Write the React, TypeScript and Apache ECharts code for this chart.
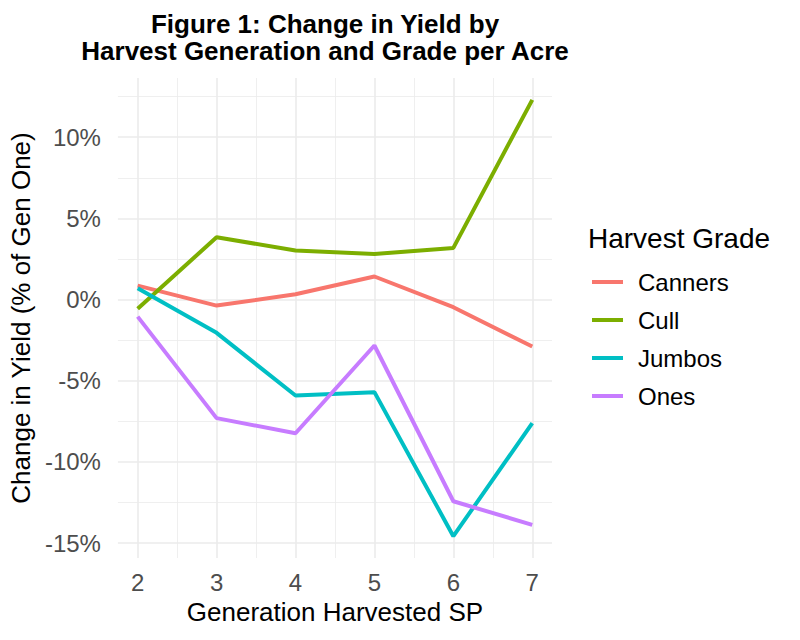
import React, { useEffect, useRef } from 'react';
import * as echarts from 'echarts';

// Generation harvested (x) and change in yield per grade (% of Gen One)
const generations = [2, 3, 4, 5, 6, 7];
const gradeNames = ['Canners', 'Cull', 'Jumbos', 'Ones'];
const canners = [0.86, -0.37, 0.33, 1.42, -0.47, -2.89];
const cull = [-0.57, 3.84, 3.02, 2.81, 3.18, 12.3];
const jumbos = [0.7, -2.05, -5.91, -5.7, -14.57, -7.61];
const ones = [-1.05, -7.3, -8.23, -2.83, -12.42, -13.87];

// gridline positions (theme_minimal style)
const yMajor = [-15, -10, -5, 0, 5, 10];
const yMinor = [-12.5, -7.5, -2.5, 2.5, 7.5, 12.5];
const xMajor = [2, 3, 4, 5, 6, 7];
const xMinor = [2.5, 3.5, 4.5, 5.5, 6.5];

const palette = ['#F8766D', '#7CAE00', '#00BFC4', '#C77CFF'];
const FONT = 'Liberation Sans';

// ggplot-like 5% expansion of the data range
const expand = (vals: number[]) => {
  const lo = Math.min(...vals);
  const hi = Math.max(...vals);
  const pad = (hi - lo) * 0.05;
  return [lo - pad, hi + pad];
};

const App: React.FC = () => {
  const chartRef = useRef<HTMLDivElement>(null);

  useEffect(() => {
    if (!chartRef.current) return;
    const chart = echarts.init(chartRef.current, undefined, { renderer: 'svg' });

    const allY = [...canners, ...cull, ...jumbos, ...ones];
    const [yMin, yMax] = expand(allY);
    const [xMin, xMax] = expand(generations);

    const seriesValues = [canners, cull, jumbos, ones];

    const gridLine = (axis: 'xAxis' | 'yAxis', v: number, width: number) => ({
      [axis]: v,
      lineStyle: { color: '#ebebeb', width, type: 'solid' },
    });

    const options: echarts.EChartsOption = {
      animation: false,
      backgroundColor: '#ffffff',
      color: palette,
      textStyle: { fontFamily: FONT },
      title: [
        {
          text: 'Figure 1: Change in Yield by\nHarvest Generation and Grade per Acre',
          left: 325,
          top: 10,
          padding: 0,
          textAlign: 'center',
          textStyle: {
            fontFamily: FONT,
            fontSize: 26,
            fontWeight: 'bold',
            color: '#000',
            lineHeight: 27,
          },
        },
        {
          text: 'Harvest Grade',
          left: 588,
          top: 223,
          padding: 0,
          textStyle: {
            fontFamily: FONT,
            fontSize: 28,
            fontWeight: 'normal',
            color: '#000',
            lineHeight: 30,
          },
        },
      ],
      legend: {
        data: gradeNames,
        orient: 'vertical',
        left: 587,
        top: 264,
        icon: 'rect',
        itemWidth: 31,
        itemHeight: 4,
        itemGap: 12,
        textStyle: {
          fontFamily: FONT,
          fontSize: 24,
          color: '#000',
          lineHeight: 26,
          padding: [0, 0, 0, 10],
        },
      },
      grid: {
        left: 117,
        right: 248,
        top: 78,
        bottom: 82,
      },
      xAxis: {
        type: 'value',
        min: xMin,
        max: xMax,
        name: 'Generation Harvested SP',
        nameLocation: 'middle',
        nameGap: 40,
        nameTextStyle: { fontFamily: FONT, fontSize: 26, color: '#000' },
        axisLine: { show: false },
        axisTick: { show: false },
        splitLine: { show: false },
        axisLabel: {
          showMinLabel: false,
          showMaxLabel: false,
          margin: 12,
          fontFamily: FONT,
          fontSize: 24,
          color: '#4d4d4d',
        },
      },
      yAxis: {
        type: 'value',
        min: yMin,
        max: yMax,
        name: 'Change in Yield (% of Gen One)',
        nameLocation: 'middle',
        nameGap: 81,
        nameTextStyle: { fontFamily: FONT, fontSize: 26, color: '#000' },
        axisLine: { show: false },
        axisTick: { show: false },
        splitLine: { show: false },
        axisLabel: {
          showMinLabel: false,
          showMaxLabel: false,
          margin: 17,
          fontFamily: FONT,
          fontSize: 24,
          color: '#4d4d4d',
          formatter: (v: number) => `${v}%`,
        },
      },
      series: [
        {
          name: '__grid',
          type: 'line',
          data: [],
          z: 1,
          silent: true,
          markLine: {
            silent: true,
            z: 1,
            animation: false,
            symbol: ['none', 'none'],
            label: { show: false },
            emphasis: { disabled: true },
            data: [
              ...yMinor.map((v) => gridLine('yAxis', v, 0.8)),
              ...xMinor.map((v) => gridLine('xAxis', v, 0.8)),
              ...yMajor.map((v) => gridLine('yAxis', v, 1.6)),
              ...xMajor.map((v) => gridLine('xAxis', v, 1.6)),
            ] as any,
          },
        },
        ...gradeNames.map((name, i) => ({
          name,
          type: 'line' as const,
          z: 10,
          showSymbol: false,
          symbol: 'none',
          lineStyle: { width: 4, color: palette[i] },
          itemStyle: { color: palette[i] },
          data: generations.map((g, j) => [g, seriesValues[i][j]]),
        })),
      ],
    };

    chart.setOption(options);

    return () => {
      chart.dispose();
    };
  }, []);

  return (
    <div
      ref={chartRef}
      style={{ position: 'absolute', left: 0, top: 0, width: 800, height: 640 }}
    />
  );
};

export default App;
